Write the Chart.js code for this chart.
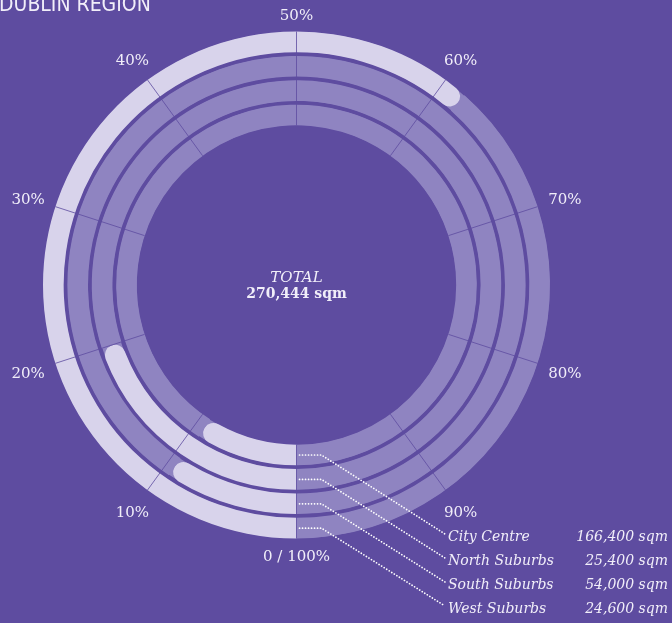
<!DOCTYPE html>
<html>
<head>
<meta charset="utf-8">
<title>Dublin Region</title>
<script src="https://cdn.jsdelivr.net/npm/chart.js@4"></script>
<style>
  html, body { margin: 0; padding: 0; background: #5e4ca0; }
  #wrap { position: relative; width: 672px; height: 623px; overflow: hidden; }
  canvas { display: block; }
</style>
</head>
<body>
<div id="wrap"><canvas id="chart" width="672" height="623"></canvas></div>
<script>
// Office space by area, Dublin region
const regions = ['City Centre', 'North Suburbs', 'South Suburbs', 'West Suburbs'];
const areaSqm = [166400, 25400, 54000, 24600];
const totalSqm = 270444;
const tickValues = [0, 10, 20, 30, 40, 50, 60, 70, 80, 90];
const tickLabels = ['0 / 100%', '10%', '20%', '30%', '40%', '50%', '60%', '70%', '80%', '90%'];

const BG = '#5e4ca0';
const TRACK = '#8f84c1';
const LIGHT = '#d8d3eb';
const INK = '#f1eef9';
const SERIF = "'DejaVu Serif', 'Liberation Serif', serif";

const fmt = n => n.toLocaleString('en-US');

// One ring per region (outermost first), thin transparent rings in between act as gaps
const ringWeight = 11, gapWeight = 2;
const datasets = [];
const ringIdx = [];
regions.forEach((name, i) => {
  if (i > 0) {
    datasets.push({ label: 'gap', data: [1], backgroundColor: 'rgba(0,0,0,0)', borderWidth: 0, weight: gapWeight });
  }
  ringIdx.push(datasets.length);
  datasets.push({
    label: name,
    data: [areaSqm[i], totalSqm - areaSqm[i]],
    backgroundColor: [LIGHT, TRACK],
    borderWidth: 0,
    weight: ringWeight,
    borderRadius: ctx => ctx.dataIndex === 0
      ? { outerStart: 0, innerStart: 0, outerEnd: 30, innerEnd: 30 }
      : 0
  });
});

function ringGeom(chart, k) {
  const arc = chart.getDatasetMeta(ringIdx[k]).data[0];
  return { x: arc.x, y: arc.y, inner: arc.innerRadius, outer: arc.outerRadius };
}

const ringDecor = {
  id: 'ringDecor',
  beforeDraw(chart) {
    const ctx = chart.ctx;
    ctx.save();
    ctx.fillStyle = BG;
    ctx.fillRect(0, 0, chart.width, chart.height);
    ctx.restore();
  },
  beforeDatasetsDraw(chart) {
    // full track under each ring so the rounded ends sit on the track
    const ctx = chart.ctx;
    ctx.save();
    ctx.fillStyle = TRACK;
    regions.forEach((_, k) => {
      const g = ringGeom(chart, k);
      ctx.beginPath();
      ctx.arc(g.x, g.y, g.outer - 0.5, 0, Math.PI * 2);
      ctx.arc(g.x, g.y, g.inner + 0.5, Math.PI * 2, 0, true);
      ctx.closePath();
      ctx.fill();
    });
    ctx.restore();
  },
  afterDatasetsDraw(chart) {
    const ctx = chart.ctx;
    const outerG = ringGeom(chart, 0);
    const innerG = ringGeom(chart, regions.length - 1);
    const cx = outerG.x, cy = outerG.y;
    const start = Math.PI / 2; // values start at the bottom and run clockwise

    // radial tick lines across the rings
    ctx.save();
    ctx.strokeStyle = 'rgba(94,76,160,0.8)';
    ctx.lineWidth = 1;
    tickValues.forEach(v => {
      const a = start + v / 100 * Math.PI * 2;
      ctx.beginPath();
      ctx.moveTo(cx + Math.cos(a) * innerG.inner, cy + Math.sin(a) * innerG.inner);
      ctx.lineTo(cx + Math.cos(a) * outerG.outer, cy + Math.sin(a) * outerG.outer);
      ctx.stroke();
    });
    ctx.restore();

    // percentage labels around the outside
    ctx.save();
    ctx.font = '15px ' + SERIF;
    ctx.fillStyle = INK;
    ctx.textAlign = 'center';
    ctx.textBaseline = 'middle';
    const R = outerG.outer + 11;
    tickValues.forEach((v, i) => {
      const a = start + v / 100 * Math.PI * 2;
      const dx = Math.cos(a), dy = Math.sin(a);
      const w = ctx.measureText(tickLabels[i]).width;
      const off = R + Math.abs(dx) * w / 2 + Math.abs(dy) * 6;
      ctx.fillText(tickLabels[i], cx + dx * off, cy + dy * off + 2);
    });
    ctx.restore();

    // centre total
    ctx.save();
    ctx.fillStyle = INK;
    ctx.textAlign = 'center';
    ctx.textBaseline = 'middle';
    ctx.font = 'italic 15px ' + SERIF;
    ctx.fillText('TOTAL', cx, cy - 7);
    ctx.font = 'bold 14px ' + SERIF;
    ctx.fillText(fmt(totalSqm) + ' sqm', cx, cy + 9);
    ctx.restore();

    // dotted leaders from the start of each ring to the legend rows
    const rowY = [537, 561, 585, 609];
    const textX = 448, valueX = 668;
    ctx.save();
    ctx.strokeStyle = '#ffffff';
    ctx.lineWidth = 1.7;
    ctx.lineCap = 'round';
    ctx.setLineDash([0.1, 2.9]);
    regions.forEach((_, j) => {
      const g = ringGeom(chart, regions.length - 1 - j);
      const y0 = cy + (g.inner + g.outer) / 2;
      ctx.beginPath();
      ctx.moveTo(cx + 3, y0);
      ctx.lineTo(cx + 25, y0);
      ctx.lineTo(textX - 3, rowY[j] - 3);
      ctx.stroke();
    });
    ctx.restore();

    ctx.save();
    ctx.fillStyle = INK;
    ctx.font = 'italic 14px ' + SERIF;
    ctx.textBaseline = 'middle';
    regions.forEach((name, j) => {
      ctx.textAlign = 'left';
      ctx.fillText(name, textX, rowY[j]);
      ctx.textAlign = 'right';
      ctx.fillText(fmt(areaSqm[j]) + ' sqm', valueX, rowY[j]);
    });
    ctx.restore();
  },
  afterDraw(chart) {
    const ctx = chart.ctx;
    ctx.save();
    ctx.fillStyle = INK;
    ctx.font = "21px 'Liberation Sans Narrow', 'DejaVu Sans Condensed', sans-serif";
    ctx.textAlign = 'left';
    ctx.textBaseline = 'alphabetic';
    ctx.fillText('DUBLIN REGION', -1, 11);
    ctx.restore();
  }
};

new Chart(document.getElementById('chart'), {
  type: 'doughnut',
  data: { labels: ['Area', 'Remainder'], datasets },
  options: {
    responsive: false,
    devicePixelRatio: 1,
    animation: false,
    events: [],
    rotation: 180,
    cutout: '63%',
    spacing: 0,
    hoverOffset: 0,
    layout: { padding: { left: 43, top: 31.5, right: 122, bottom: 84.5 } },
    plugins: { legend: { display: false }, tooltip: { enabled: false }, title: { display: false } }
  },
  plugins: [ringDecor]
});
</script>
</body>
</html>
